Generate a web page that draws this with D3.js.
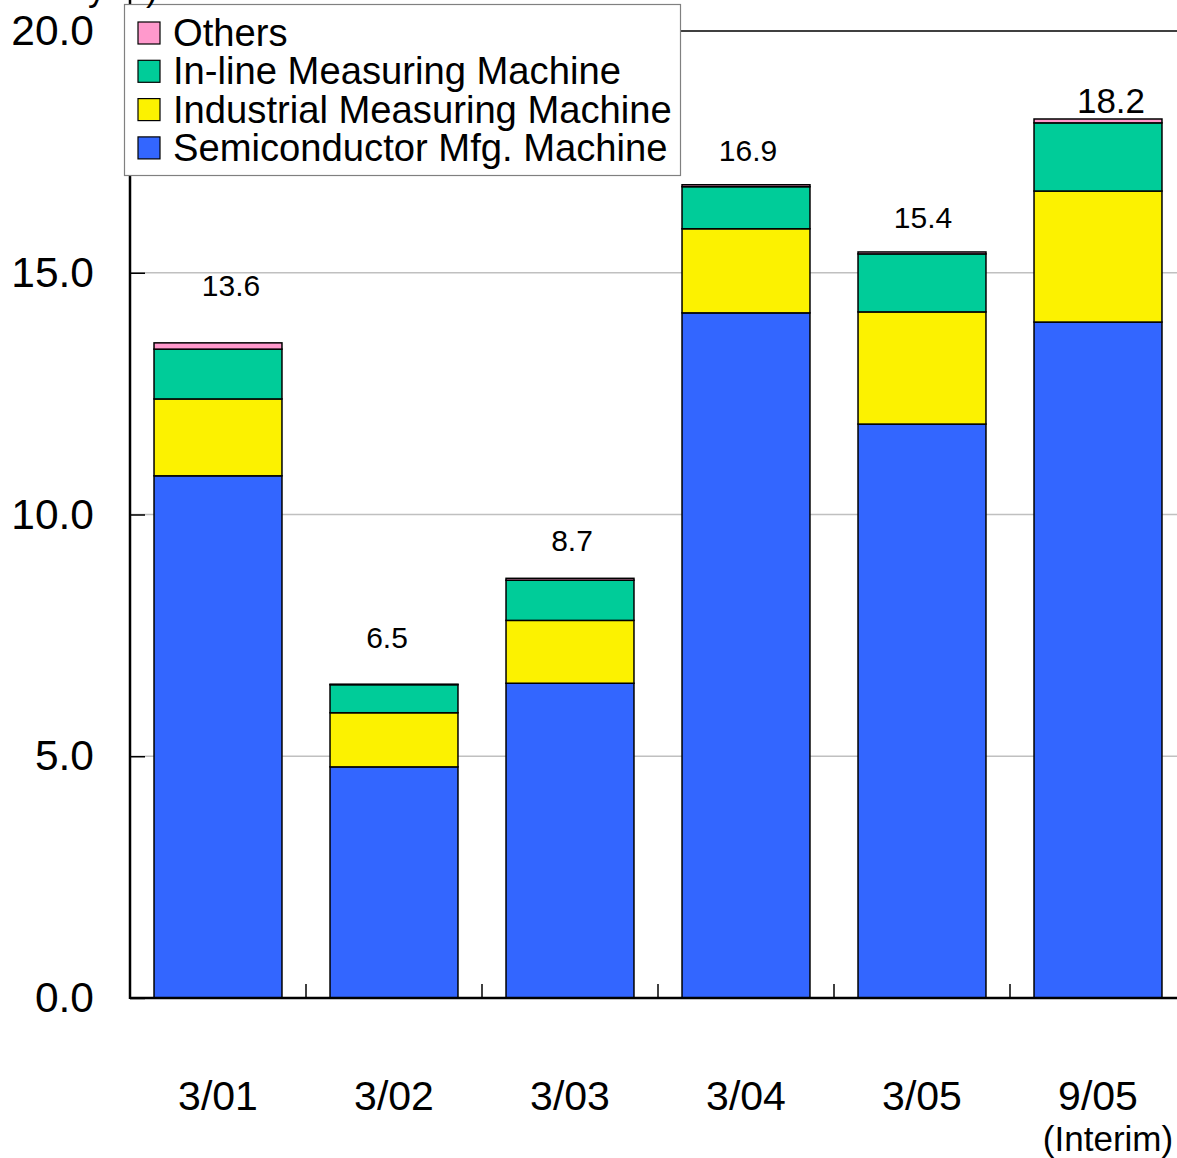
<!DOCTYPE html>
<html>
<head>
<meta charset="utf-8">
<script src="https://cdn.jsdelivr.net/npm/d3@7"></script>
<style>
  html, body { margin: 0; padding: 0; background: #fff; }
  svg { display: block; font-family: "Liberation Sans", Arial, sans-serif; }
</style>
</head>
<body>
<svg id="chart" width="1177" height="1158"></svg>
<script>
// ---- data ----
const categories = ["3/01", "3/02", "3/03", "3/04", "3/05", "9/05"];
const subLabels  = ["", "", "", "", "", "(Interim)"];
const seriesNames = ["Semiconductor Mfg. Machine", "Industrial Measuring Machine", "In-line Measuring Machine", "Others"];
const semiconductor = [10.80, 4.78, 6.51, 14.17, 11.87, 13.98];
const industrial    = [1.59, 1.12, 1.30, 1.74, 2.32, 2.71];
const inline        = [1.03, 0.58, 0.83, 0.87, 1.20, 1.41];
const others        = [0.13, 0.01, 0.04, 0.04, 0.04, 0.08];
const totalLabels   = ["13.6", "6.5", "8.7", "16.9", "15.4", "18.2"];
const yTicks = [0, 5, 10, 15, 20];

// ---- drawing ----
const colors = {
  "Semiconductor Mfg. Machine": "#3366ff",
  "Industrial Measuring Machine": "#fcf200",
  "In-line Measuring Machine": "#00cc99",
  "Others": "#ff99cc"
};
const seriesData = [semiconductor, industrial, inline, others];

const svg = d3.select("#chart");
const x0 = 130, yBottom = 998, yTop = 31, xRight = 1186;

const x = d3.scaleBand().domain(categories).range([x0, xRight])
  .paddingInner(0.273).paddingOuter(0.1365);
const y = d3.scaleLinear().domain([0, 20]).range([yBottom, yTop]);

const table = categories.map((c, i) => {
  const row = { cat: c };
  seriesNames.forEach((s, k) => row[s] = seriesData[k][i]);
  return row;
});
const stacked = d3.stack().keys(seriesNames)(table);

// grid lines
svg.append("g").selectAll("line").data(yTicks.filter(t => t > 0 && t < 20)).join("line")
  .attr("x1", x0).attr("x2", 1177)
  .attr("y1", d => y(d)).attr("y2", d => y(d))
  .attr("stroke", "#c0c0c0").attr("stroke-width", 1.5);
// top line at 20
svg.append("line").attr("x1", x0).attr("x2", 1177).attr("y1", y(20)).attr("y2", y(20))
  .attr("stroke", "#000").attr("stroke-width", 1.5);

// bars
svg.append("g").selectAll("g").data(stacked).join("g")
  .attr("fill", d => colors[d.key])
  .selectAll("rect").data(d => d).join("rect")
  .attr("x", d => x(d.data.cat))
  .attr("width", x.bandwidth())
  .attr("y", d => y(d[1]))
  .attr("height", d => Math.max(0, y(d[0]) - y(d[1])))
  .attr("stroke", "#000").attr("stroke-width", 1.5);

// y axis
const yAxis = d3.axisLeft(y).tickValues(yTicks).tickSize(0).tickPadding(36)
  .tickFormat(d3.format(".1f"));
const gy = svg.append("g").attr("transform", `translate(${x0},0)`).call(yAxis);
gy.select(".domain").remove();
gy.selectAll("text").attr("font-size", 42.5).attr("fill", "#000")
  .attr("font-family", "Liberation Sans, Arial, sans-serif");
gy.selectAll(".tick").append("line").attr("x1", 0).attr("x2", 15)
  .attr("stroke", "#000").attr("stroke-width", 1.5);
svg.append("line").attr("x1", x0).attr("x2", x0).attr("y1", 0).attr("y2", yBottom + 1)
  .attr("stroke", "#000").attr("stroke-width", 2.5);

// x axis line and category ticks
svg.append("line").attr("x1", x0).attr("x2", 1177).attr("y1", yBottom).attr("y2", yBottom)
  .attr("stroke", "#000").attr("stroke-width", 2.5);
const step = x.step();
svg.append("g").selectAll("line").data(categories.slice(0, -1)).join("line")
  .attr("x1", d => x(d) + x.bandwidth() + (step - x.bandwidth()) / 2)
  .attr("x2", d => x(d) + x.bandwidth() + (step - x.bandwidth()) / 2)
  .attr("y1", yBottom).attr("y2", yBottom - 14)
  .attr("stroke", "#000").attr("stroke-width", 1.5);

// x labels
svg.append("g").selectAll("text").data(categories).join("text")
  .attr("x", d => x(d) + x.bandwidth() / 2)
  .attr("y", 1110)
  .attr("text-anchor", "middle").attr("font-size", 41).text(d => d);
svg.append("g").selectAll("text").data(categories.map((c, i) => ({ c, s: subLabels[i] })).filter(d => d.s)).join("text")
  .attr("x", d => x(d.c) + x.bandwidth() / 2 + 10)
  .attr("y", 1151)
  .attr("text-anchor", "middle").attr("font-size", 35).text(d => d.s);

// total value labels (text nudges as placed in the original)
const labelDx = [13, -7, 2, 2, 1, 13];
const labelLift = [47, 36, 27, 24, 24, 6];
const labelSize = [30, 30, 30, 30, 30, 35];
const tops = stacked[stacked.length - 1];
svg.append("g").selectAll("text").data(tops).join("text")
  .attr("x", (d, i) => x(d.data.cat) + x.bandwidth() / 2 + labelDx[i])
  .attr("y", (d, i) => y(d[1]) - labelLift[i])
  .attr("text-anchor", "middle")
  .attr("font-size", (d, i) => labelSize[i])
  .text((d, i) => totalLabels[i]);

// legend
const lg = svg.append("g");
lg.append("rect").attr("x", 124.5).attr("y", 4.5).attr("width", 556).attr("height", 171)
  .attr("fill", "#fff").attr("stroke", "#808080").attr("stroke-width", 1.2);
const legendOrder = seriesNames.slice().reverse();
const items = lg.selectAll("g.item").data(legendOrder).join("g")
  .attr("class", "item")
  .attr("transform", (d, i) => `translate(0, ${i * 38.3})`);
items.append("rect").attr("x", 138).attr("y", 22).attr("width", 22).attr("height", 22)
  .attr("fill", d => colors[d]).attr("stroke", "#000").attr("stroke-width", 1.2);
items.append("text").attr("x", 173).attr("y", 46).attr("font-size", 38.2).text(d => d);

// unit label (mostly cut off at top, as in the original)
svg.append("text").attr("x", 158).attr("y", 0).attr("text-anchor", "end")
  .attr("font-size", 36).text("(Billion yen)");
</script>
</body>
</html>
